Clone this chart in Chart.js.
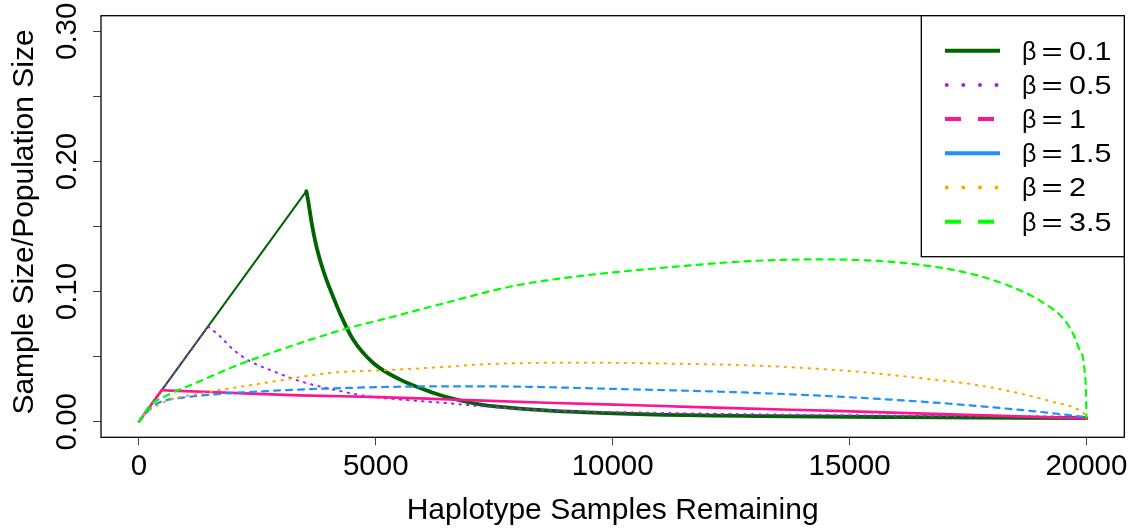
<!DOCTYPE html>
<html>
<head>
<meta charset="utf-8">
<script src="https://cdn.jsdelivr.net/npm/chart.js@4.4.1/dist/chart.umd.min.js"></script>
<style>
  html, body { margin: 0; padding: 0; background: #fff; }
  #wrap { width: 1142px; height: 529px; }
</style>
</head>
<body>
<div id="wrap"><canvas id="myChart" width="1142" height="529"></canvas></div>
<script>
// axis ticks
const xTicks = [0, 5000, 10000, 15000, 20000]
const yTicks = [0, 0.05, 0.1, 0.15, 0.2, 0.25, 0.3]
const yTickLabels = ['0.00', '', '0.10', '', '0.20', '', '0.30']

// legend text for each beta
const betaLabels = ['0.1', '0.5', '1', '1.5', '2', '3.5']

// haplotype samples remaining (x) vs sample size / population size (y)
const beta01X = [0, 3534, 3568, 3650, 3745, 3850, 3956, 4100, 4237, 4518, 4940, 5504, 6207, 6559, 7192, 8248, 9303, 10711, 13103, 16000, 20000]
const beta01Y = [0, 0.1772, 0.1709, 0.152, 0.135, 0.121, 0.1094, 0.096, 0.0838, 0.0633, 0.0453, 0.0325, 0.0223, 0.0184, 0.0133, 0.0095, 0.0074, 0.0056, 0.0043, 0.0035, 0.0028]

const beta05X = [0, 1460, 1706, 1985, 2337, 2829, 3392, 4096, 4800, 5504, 6559, 7192, 8600, 10711, 13103, 16500, 20000]
const beta05Y = [0, 0.0732, 0.0658, 0.0556, 0.0466, 0.0389, 0.0312, 0.0248, 0.0197, 0.0171, 0.0141, 0.012, 0.0087, 0.0069, 0.0056, 0.0045, 0.0038]

const beta1X = [0, 480, 1500, 3392, 5081, 6559, 8600, 10700, 12892, 14700, 16411, 18200, 20000]
const beta1Y = [0, 0.0241, 0.0228, 0.0202, 0.0189, 0.0171, 0.0146, 0.0124, 0.01, 0.0083, 0.0064, 0.0045, 0.0025]

const beta15X = [0, 296, 578, 929, 1283, 1984, 2689, 3392, 4096, 5081, 6559, 7895, 10006, 12892, 15003, 17114, 18868, 19930, 20000]
const beta15Y = [0, 0.012, 0.0165, 0.0185, 0.02, 0.022, 0.0235, 0.0247, 0.0256, 0.0266, 0.0272, 0.027, 0.0252, 0.0223, 0.0188, 0.0138, 0.0081, 0.0038, 0.0035]

const beta2X = [0, 85, 578, 1283, 2689, 4096, 5081, 6559, 7192, 9303, 11414, 12892, 15003, 16411, 17818, 19226, 19930, 20000]
const beta2Y = [0, 0.0043, 0.0158, 0.0215, 0.03, 0.0377, 0.0394, 0.0423, 0.044, 0.0453, 0.0445, 0.0433, 0.0389, 0.0338, 0.0274, 0.0158, 0.0069, 0.004]

const beta35X = [0, 226, 578, 1283, 1984, 3040, 4448, 5081, 6489, 7895, 9303, 10711, 12892, 14300, 15356, 16411, 17467, 18381, 19085, 19578, 19824, 19965, 19995, 20000]
const beta35Y = [0, 0.012, 0.02, 0.031, 0.042, 0.056, 0.0722, 0.078, 0.0915, 0.1042, 0.1119, 0.1171, 0.1234, 0.1247, 0.124, 0.1209, 0.1145, 0.1042, 0.0915, 0.0761, 0.0581, 0.0377, 0.0171, 0.003]

const FONT = '"Liberation Sans", Arial, Helvetica, sans-serif'

function points(xs, ys) {
  return xs.map((x, i) => ({ x: x, y: ys[i] }))
}

// corner = index where a straight ramp from the origin ends (null = smooth all the way)
const series = [
  { data: points(beta01X, beta01Y), corner: 1, color: '#006400', width: 2, tailWidth: 3.8, dash: [], legendDash: [] },
  { data: points(beta05X, beta05Y), corner: 1, color: '#A020F0', width: 2, dash: [1.5, 6], legendDash: 'dot' },
  { data: points(beta1X, beta1Y), corner: 1, color: '#FF1493', width: 2.6, dash: [], legendDash: [16, 17] },
  { data: points(beta15X, beta15Y), corner: null, color: '#1E90FF', width: 2.2, dash: [6, 6], legendDash: [] },
  { data: points(beta2X, beta2Y), corner: null, color: '#FFA500', width: 2, dash: [1.5, 6.5], legendDash: 'dot' },
  { data: points(beta35X, beta35Y), corner: null, color: '#00FF00', width: 2.2, dash: [6, 6], legendDash: [16, 17] }
]

function lineDataset(s, i, data, width, smooth) {
  return {
    label: 'β = ' + betaLabels[i],
    data: data,
    borderColor: s.color,
    borderWidth: width,
    borderDash: s.dash,
    borderCapStyle: 'round',
    borderJoinStyle: 'round',
    pointRadius: 0,
    showLine: true,
    fill: false,
    tension: 0,
    cubicInterpolationMode: smooth ? 'monotone' : 'default',
    order: series.length - i
  }
}

const datasets = []
series.forEach((s, i) => {
  if (s.corner === null) {
    datasets.push(lineDataset(s, i, s.data, s.width, true))
  } else {
    // straight ramp up to the corner, smooth curve after it
    datasets.push(lineDataset(s, i, s.data.slice(0, s.corner + 1), s.width, false))
    datasets.push(lineDataset(s, i, s.data.slice(s.corner), s.tailWidth || s.width, true))
  }
})

// box, tick labels, axis titles and legend
const framePlugin = {
  id: 'frame',
  afterDraw(chart) {
    const ctx = chart.ctx
    const area = chart.chartArea
    const xs = chart.scales.x
    const ys = chart.scales.y

    ctx.save()
    ctx.strokeStyle = '#000'
    ctx.lineWidth = 1.3
    ctx.strokeRect(area.left, area.top, area.right - area.left, area.bottom - area.top)

    ctx.fillStyle = '#000'
    ctx.font = '29.5px ' + FONT
    ctx.textAlign = 'center'
    ctx.textBaseline = 'alphabetic'
    xTicks.forEach(v => {
      ctx.fillText(String(v), xs.getPixelForValue(v), 475)
    })
    yTicks.forEach((v, i) => {
      if (!yTickLabels[i]) return
      ctx.save()
      ctx.translate(76, ys.getPixelForValue(v))
      ctx.rotate(-Math.PI / 2)
      ctx.fillText(yTickLabels[i], 0, 0)
      ctx.restore()
    })

    ctx.font = '30px ' + FONT
    ctx.fillText('Haplotype Samples Remaining', (area.left + area.right) / 2, 518.5)
    ctx.save()
    ctx.translate(33, 222)
    ctx.rotate(-Math.PI / 2)
    ctx.fillText('Sample Size/Population Size', 0, 0)
    ctx.restore()

    // legend
    const lx = 921.3
    const ly = area.top
    const lw = area.right - lx
    const lh = 241
    ctx.fillStyle = '#fff'
    ctx.fillRect(lx, ly, lw, lh)
    ctx.strokeStyle = '#000'
    ctx.lineWidth = 1.3
    ctx.strokeRect(lx, ly, lw, lh)

    series.forEach((s, i) => {
      const cy = 50.7 + i * 34.2
      ctx.save()
      ctx.strokeStyle = s.color
      ctx.lineWidth = 4
      if (s.legendDash === 'dot') {
        ctx.lineCap = 'round'
        ctx.setLineDash([0.01, 16.6])
        ctx.beginPath()
        ctx.moveTo(946.7, cy)
        ctx.lineTo(1000, cy)
        ctx.stroke()
      } else {
        ctx.lineCap = 'butt'
        ctx.setLineDash(s.legendDash)
        ctx.beginPath()
        ctx.moveTo(945, cy)
        ctx.lineTo(1000, cy)
        ctx.stroke()
      }
      ctx.restore()

      ctx.fillStyle = '#000'
      ctx.textBaseline = 'alphabetic'
      ctx.font = '25px ' + FONT
      ctx.textAlign = 'left'
      ctx.fillText('β', 1022, cy + 8.8)
      ctx.save()
      ctx.translate(1052, cy + 8.8)
      ctx.scale(1.45, 1)
      ctx.textAlign = 'center'
      ctx.fillText('=', 0, 0)
      ctx.restore()
      ctx.save()
      ctx.translate(1069, cy + 8.8)
      ctx.scale(1.22, 1)
      ctx.textAlign = 'left'
      ctx.fillText(betaLabels[i], 0, 0)
      ctx.restore()
    })
    ctx.restore()
  }
}

const ctx = document.getElementById('myChart').getContext('2d')

new Chart(ctx, {
  type: 'scatter',
  data: { datasets: datasets },
  options: {
    responsive: false,
    animation: false,
    devicePixelRatio: 1,
    layout: { padding: { left: 0, top: 15.7, right: 17.7, bottom: 0 } },
    plugins: {
      legend: { display: false },
      tooltip: { enabled: false }
    },
    scales: {
      x: {
        type: 'linear',
        min: -800,
        max: 20800,
        afterBuildTicks: scale => {
          scale.ticks = xTicks.map(v => ({ value: v }))
        },
        afterFit: scale => {
          scale.height = 529 - 437.3
        },
        ticks: { display: false },
        border: { display: false },
        grid: {
          drawOnChartArea: false,
          drawTicks: true,
          tickLength: 8,
          color: '#444',
          lineWidth: 1
        }
      },
      y: {
        type: 'linear',
        min: -0.012,
        max: 0.312,
        afterBuildTicks: scale => {
          scale.ticks = yTicks.map(v => ({ value: v }))
        },
        afterFit: scale => {
          scale.width = 101
        },
        ticks: { display: false },
        border: { display: false },
        grid: {
          drawOnChartArea: false,
          drawTicks: true,
          tickLength: 8,
          color: '#444',
          lineWidth: 1
        }
      }
    }
  },
  plugins: [framePlugin]
})
</script>
</body>
</html>
